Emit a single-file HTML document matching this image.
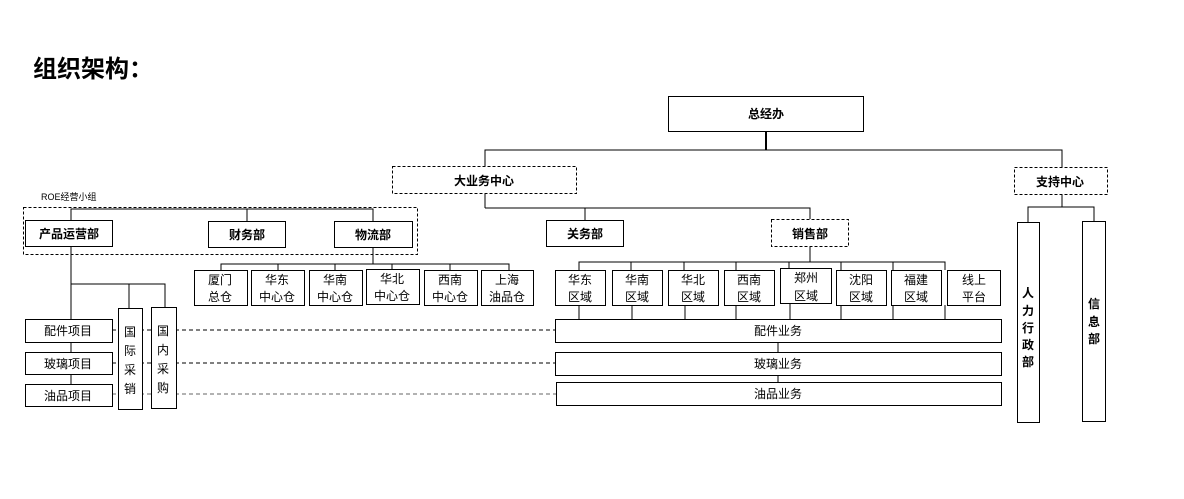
<!DOCTYPE html>
<html><head><meta charset="utf-8"><style>
html,body{margin:0;padding:0;background:#fff;width:1184px;height:499px;overflow:hidden}
svg{display:block}
text{font-family:"Liberation Sans","Noto Sans CJK SC",sans-serif;fill:#000}
.b{font-weight:bold}
</style></head><body>
<svg width="1184" height="499" viewBox="0 0 1184 499" xmlns="http://www.w3.org/2000/svg">
<text x="33" y="77" font-size="24" class="b">组织架构：</text>
<g stroke="#000" stroke-width="1" fill="none">
<!-- top connectors -->
<line x1="766" y1="131" x2="766" y2="150" stroke-width="2"/>
<polyline points="485,166 485,150 1062,150 1062,167"/>
<line x1="485" y1="193" x2="485" y2="208"/>
<polyline points="71,220 71,209 373,209 373,221"/>
<line x1="247" y1="209" x2="247" y2="221"/>
<polyline points="485,208 810,208 810,219"/>
<line x1="585" y1="208" x2="585" y2="220"/>
<!-- logistics -->
<line x1="373" y1="247" x2="373" y2="264"/>
<polyline points="221,270 221,264 509,264 509,270"/>
<line x1="278" y1="264" x2="278" y2="270"/><line x1="335" y1="264" x2="335" y2="270"/>
<line x1="392" y1="264" x2="392" y2="270"/><line x1="450" y1="264" x2="450" y2="270"/>
<!-- product ops -->
<line x1="71" y1="246" x2="71" y2="319"/>
<polyline points="71,284 165,284 165,307"/>
<line x1="129" y1="284" x2="129" y2="308"/>
<line x1="71" y1="342" x2="71" y2="352"/><line x1="71" y1="374" x2="71" y2="384"/>
<!-- sales -->
<line x1="810" y1="246" x2="810" y2="262"/>
<polyline points="579,270 579,262 945,262 945,270"/>
<line x1="631" y1="262" x2="631" y2="270"/><line x1="684" y1="262" x2="684" y2="270"/>
<line x1="736" y1="262" x2="736" y2="270"/><line x1="789" y1="262" x2="789" y2="268"/>
<line x1="841" y1="262" x2="841" y2="270"/><line x1="893" y1="262" x2="893" y2="270"/>
<line x1="579" y1="305" x2="579" y2="319"/><line x1="632" y1="305" x2="632" y2="319"/>
<line x1="685" y1="305" x2="685" y2="319"/><line x1="736" y1="305" x2="736" y2="319"/>
<line x1="790" y1="304" x2="790" y2="319"/><line x1="841" y1="305" x2="841" y2="319"/>
<line x1="893" y1="305" x2="893" y2="328"/><line x1="945" y1="305" x2="945" y2="319"/>
<line x1="778" y1="342" x2="778" y2="352"/><line x1="778" y1="375" x2="778" y2="382"/>
<!-- support -->
<line x1="1062" y1="194" x2="1062" y2="207"/>
<polyline points="1028,222 1028,207 1094,207 1094,221"/>
<!-- dashed links -->
<line x1="112" y1="330" x2="555" y2="330" stroke-dasharray="4,3"/>
<line x1="112" y1="363" x2="555" y2="363" stroke-dasharray="4,3"/>
<line x1="112" y1="394" x2="556" y2="394" stroke-dasharray="4,3" stroke="#666"/>
</g>
<g stroke="#000" stroke-width="1" fill="#fff">
<rect x="668.5" y="96.5" width="195" height="35"/>
<rect x="392.5" y="166.5" width="184" height="27" stroke-dasharray="3,2"/>
<rect x="1014.5" y="167.5" width="93" height="27" stroke-dasharray="3,2"/>
<rect x="23.5" y="207.5" width="394" height="47" fill="none" stroke-dasharray="3,2"/>
<rect x="25.5" y="220.5" width="87" height="26"/>
<rect x="208.5" y="221.5" width="77" height="26"/>
<rect x="334.5" y="221.5" width="78" height="26"/>
<rect x="546.5" y="220.5" width="77" height="26"/>
<rect x="771.5" y="219.5" width="77" height="27" stroke-dasharray="3,2"/>
<rect x="194.5" y="270.5" width="53" height="35"/>
<rect x="251.5" y="270.5" width="53" height="35"/>
<rect x="309.5" y="270.5" width="53" height="35"/>
<rect x="366.5" y="269.5" width="53" height="35"/>
<rect x="424.5" y="270.5" width="53" height="35"/>
<rect x="481.5" y="270.5" width="52" height="35"/>
<rect x="555.5" y="270.5" width="50" height="35"/>
<rect x="612.5" y="270.5" width="50" height="35"/>
<rect x="668.5" y="270.5" width="50" height="35"/>
<rect x="724.5" y="270.5" width="50" height="35"/>
<rect x="780.5" y="268.5" width="51" height="35"/>
<rect x="836.5" y="270.5" width="50" height="35"/>
<rect x="891.5" y="270.5" width="50" height="35"/>
<rect x="947.5" y="270.5" width="53" height="35"/>
<rect x="555.5" y="319.5" width="446" height="23"/>
<rect x="555.5" y="352.5" width="446" height="23"/>
<rect x="556.5" y="382.5" width="445" height="23"/>
<rect x="25.5" y="319.5" width="87" height="23"/>
<rect x="25.5" y="352.5" width="87" height="22"/>
<rect x="25.5" y="384.5" width="87" height="22"/>
<rect x="118.5" y="308.5" width="24" height="101"/>
<rect x="151.5" y="307.5" width="25" height="101"/>
<rect x="1017.5" y="222.5" width="22" height="200"/>
<rect x="1082.5" y="221.5" width="23" height="200"/>
</g>
<g font-size="12" text-anchor="middle">
<text x="766" y="118" class="b">总经办</text>
<text x="484" y="185" class="b">大业务中心</text>
<text x="1060" y="186" class="b">支持中心</text>
<text x="41" y="200" font-size="9" text-anchor="start">ROE经营小组</text>
<text x="69" y="238" class="b">产品运营部</text>
<text x="247" y="239" class="b">财务部</text>
<text x="373" y="239" class="b">物流部</text>
<text x="585" y="238" class="b">关务部</text>
<text x="810" y="238" class="b">销售部</text>
<text x="220" y="284">厦门</text><text x="220" y="301">总仓</text>
<text x="277" y="284">华东</text><text x="277" y="301">中心仓</text>
<text x="335" y="284">华南</text><text x="335" y="301">中心仓</text>
<text x="392" y="283">华北</text><text x="392" y="300">中心仓</text>
<text x="450" y="284">西南</text><text x="450" y="301">中心仓</text>
<text x="507" y="284">上海</text><text x="507" y="301">油品仓</text>
<text x="580" y="284">华东</text><text x="580" y="301">区域</text>
<text x="637" y="284">华南</text><text x="637" y="301">区域</text>
<text x="693" y="284">华北</text><text x="693" y="301">区域</text>
<text x="749" y="284">西南</text><text x="749" y="301">区域</text>
<text x="806" y="282">郑州</text><text x="806" y="300">区域</text>
<text x="861" y="284">沈阳</text><text x="861" y="301">区域</text>
<text x="916" y="284">福建</text><text x="916" y="301">区域</text>
<text x="974" y="284">线上</text><text x="974" y="301">平台</text>
<text x="778" y="335">配件业务</text>
<text x="778" y="368">玻璃业务</text>
<text x="778" y="398">油品业务</text>
<text x="68" y="335">配件项目</text>
<text x="68" y="368">玻璃项目</text>
<text x="68" y="400">油品项目</text>
<text x="130" y="336">国</text><text x="130" y="355">际</text><text x="130" y="374">采</text><text x="130" y="393">销</text>
<text x="163" y="335">国</text><text x="163" y="354">内</text><text x="163" y="373">采</text><text x="163" y="392">购</text>
<text x="1028" y="297" class="b">人</text><text x="1028" y="315" class="b">力</text><text x="1028" y="332" class="b">行</text><text x="1028" y="349" class="b">政</text><text x="1028" y="366" class="b">部</text>
<text x="1094" y="308" class="b">信</text><text x="1094" y="326" class="b">息</text><text x="1094" y="343" class="b">部</text>
</g>
</svg>
</body></html>
